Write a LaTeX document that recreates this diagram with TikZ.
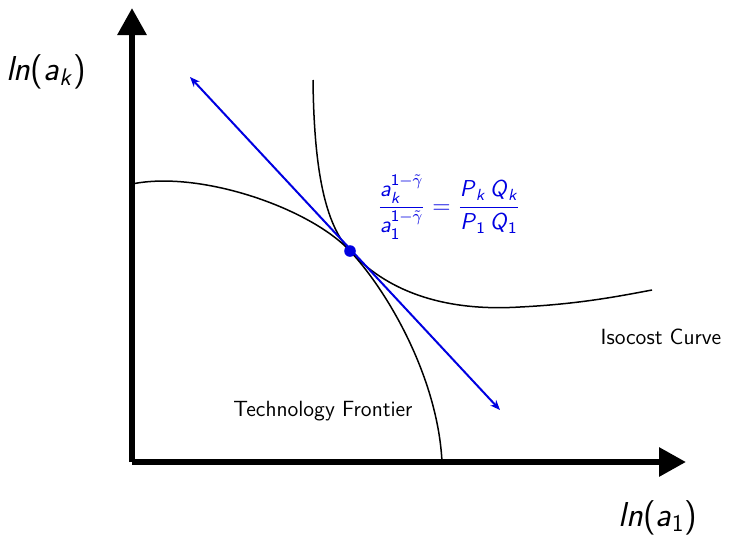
\documentclass[tikz,border=0pt]{standalone}
\usepackage{amsmath}
\usetikzlibrary{arrows.meta,positioning}
\definecolor{tanblue}{RGB}{0,0,225}
% sans italic letters in formulas
\newcommand{\sv}[1]{\textsf{\textit{#1}}}
\newcommand{\sn}[1]{\textsf{#1}}

\tikzset{
  axis/.style={line width=3pt,-{Triangle[length=13.5pt,width=14pt]}},
  curve/.style={line width=0.75pt},
  tangent/.style={tanblue,line width=1pt,{Stealth[length=5pt,width=4pt]}-{Stealth[length=5pt,width=4pt]}},
  lbl/.style={font=\sffamily\fontsize{11}{13}\selectfont,inner sep=1pt}
}

\begin{document}
\begin{tikzpicture}[x=0.5pt,y=-0.5pt]
  \useasboundingbox (0,0) rectangle (729,536);
  % axes
  \coordinate (O) at (132,462);
  \coordinate (ytip) at (132,8);
  \coordinate (xtip) at (686,462);
  \draw[axis] (O) -- (ytip);
  \draw[axis] (O) -- (xtip);
  \node[font=\sffamily\LARGE] (ylab) at (46,72) {\textit{ln}(\textit{a}$_{\sv{k}}$)};
  \node[font=\sffamily\LARGE] (xlab) at (658,518) {\textit{ln}(\textit{a}$_{\sn{1}}$)};

  % curves
  \coordinate (T) at (350,251);
  \draw[curve] (132,184) .. controls (200,170) and (310,208) .. (T)
    .. controls (390,294) and (438,380) .. (442,462);
  \draw[curve] (313,80) .. controls (314,170) and (325,224) .. (T)
    .. controls (385,289) and (440,312) .. (520,307)
    .. controls (580,304) and (620,296) .. (652,290);

  % tangent line
  \coordinate (tA) at (190,77);
  \coordinate (tB) at (500,410);
  \draw[tangent] (tA) -- (tB);
  \fill[tanblue] (T) circle (2.9pt);

  \node[text=tanblue,font=\fontsize{11.5}{14}\selectfont] (ratio) at (449,207)
    {$\dfrac{\sv{a}_{\sv{k}}^{\sn{1}-\tilde{\gamma}}}{\sv{a}_{\sn{1}}^{\sn{1}-\tilde{\gamma}}}
      =\dfrac{\sv{P}_{\sv{k}}\,\sv{Q}_{\sv{k}}}{\sv{P}_{\sn{1}}\,\sv{Q}_{\sn{1}}}$};
  \node[lbl] (iso) at (661,337) {Isocost Curve};
  \node[lbl] (tech) at (323,411) {Technology Frontier};
\end{tikzpicture}
\end{document}
